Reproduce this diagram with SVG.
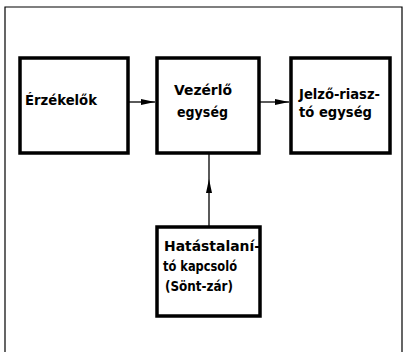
<svg xmlns="http://www.w3.org/2000/svg" width="405" height="352" viewBox="0 0 405 352">
<style>
.box{fill:#fff;stroke:#000;stroke-width:3.5}
.t{font-family:"DejaVu Sans","Liberation Sans",sans-serif;font-size:14px;font-weight:bold;fill:#000}
.c{stroke:#000;stroke-width:1.3;fill:none}
.frame{stroke:#000;stroke-width:1.2;fill:none}
</style>
<defs>
<marker id="ah" viewBox="0 0 14 6" refX="14" refY="3" markerWidth="14" markerHeight="6" markerUnits="userSpaceOnUse" orient="auto">
<path d="M0,0 L14,3 L0,6 Z" fill="#000"/>
</marker>
</defs>
<rect width="405" height="352" fill="#fff"/>
<path class="frame" d="M5,352 L5,7 L402,7 L402,352"/>
<g id="connectors">
<line class="c" x1="128" y1="102" x2="155" y2="102" marker-end="url(#ah)"/>
<line class="c" x1="259" y1="102" x2="289" y2="102" marker-end="url(#ah)"/>
<polyline class="c" points="209,227 209,179 209,153" marker-mid="url(#ah)"/>
</g>
<g id="erzekelok">
<rect class="box" x="20" y="58" width="108" height="95"/>
<text class="t" x="25" y="105" textLength="72" lengthAdjust="spacingAndGlyphs">Érzékelők</text>
</g>
<g id="vezerlo">
<rect class="box" x="157" y="58" width="102" height="95"/>
<text class="t" x="174" y="95" textLength="58" lengthAdjust="spacingAndGlyphs">Vezérlő</text>
<text class="t" x="177" y="117" textLength="51" lengthAdjust="spacingAndGlyphs">egység</text>
</g>
<g id="jelzo">
<rect class="box" x="291" y="58" width="99" height="95"/>
<text class="t" x="299" y="99" textLength="81" lengthAdjust="spacingAndGlyphs">Jelző-riasz-</text>
<text class="t" x="299" y="117" textLength="73" lengthAdjust="spacingAndGlyphs">tó egység</text>
</g>
<g id="hatastalanito">
<rect class="box" x="157" y="227" width="103" height="89"/>
<text class="t" x="164" y="251" textLength="96" lengthAdjust="spacingAndGlyphs">Hatástalaní-</text>
<text class="t" x="163" y="271" textLength="74" lengthAdjust="spacingAndGlyphs">tó kapcsoló</text>
<text class="t" x="165" y="291" textLength="68" lengthAdjust="spacingAndGlyphs">(Sönt-zár)</text>
</g>
</svg>
